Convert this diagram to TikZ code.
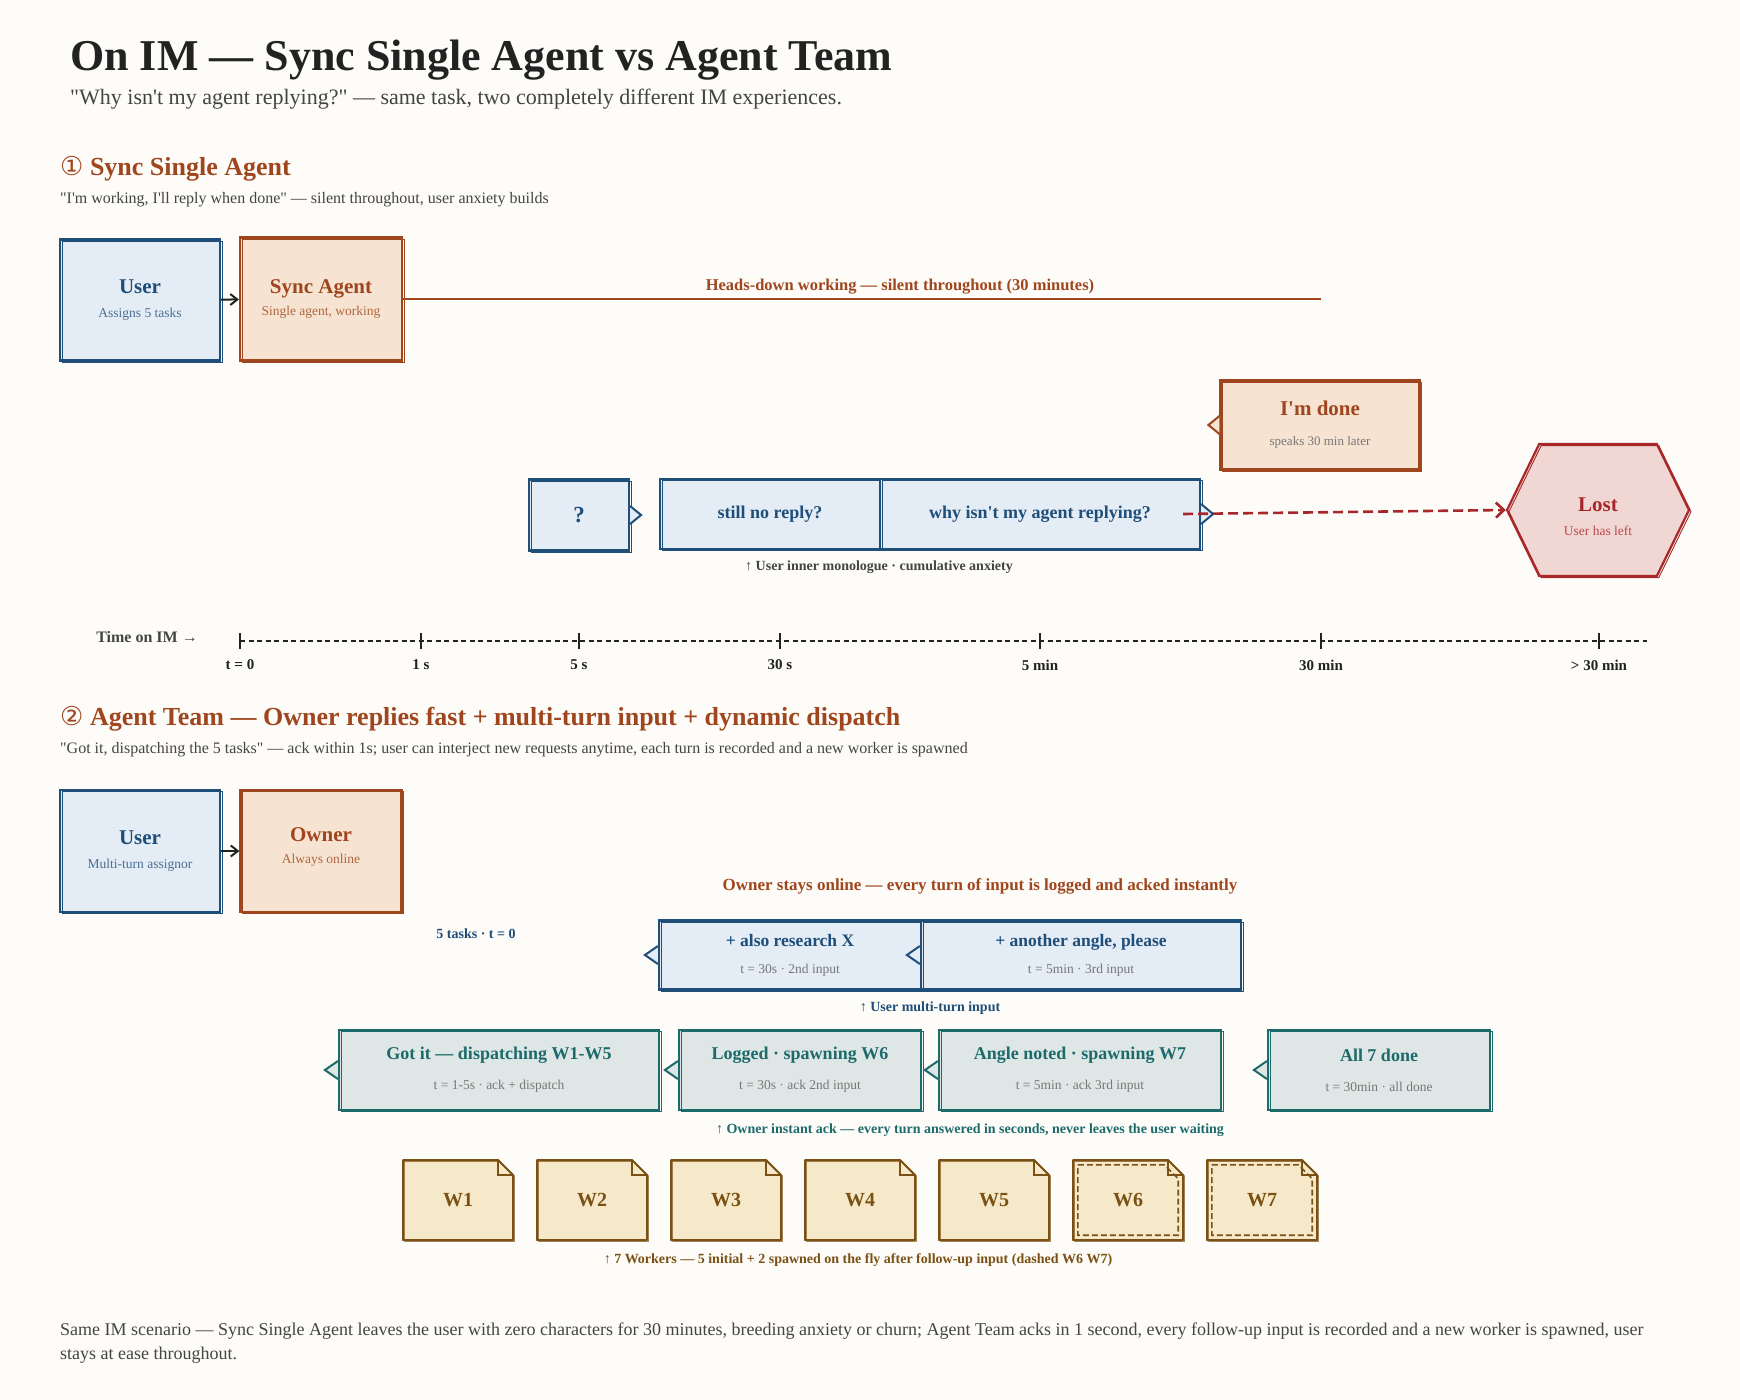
\documentclass[tikz,border=0pt]{standalone}
\usepackage{fontspec}
\setmainfont{Liberation Serif}[Ligatures=TeXOff]
\newfontfamily\circfont{DejaVu Sans}
\usetikzlibrary{arrows.meta, shapes.symbols}

\definecolor{bgpaper}{HTML}{FDFCF8}
\definecolor{inkdark}{HTML}{222222}
\definecolor{inkgray}{HTML}{444444}
\definecolor{inksoft}{HTML}{777777}
\definecolor{inkblue}{HTML}{1F4E79}
\definecolor{inkbluesoft}{HTML}{4A6F94}
\definecolor{fillblue}{HTML}{E4ECF5}
\definecolor{inkbrown}{HTML}{A0461E}
\definecolor{inkbrownsoft}{HTML}{B0663E}
\definecolor{fillpeach}{HTML}{F6E3D2}
\definecolor{inkred}{HTML}{A8282A}
\definecolor{inkredsoft}{HTML}{B84A4C}
\definecolor{fillred}{HTML}{F1D7D4}
\definecolor{inkteal}{HTML}{1D6A6B}
\definecolor{fillteal}{HTML}{DFE7E6}
\definecolor{inkgold}{HTML}{7A5014}
\definecolor{fillgold}{HTML}{F6E9C9}

\newcommand{\boxsub}[2]{{\fontsize{13.5pt}{16pt}\selectfont\mdseries\color{#1}#2}}

\begin{document}
\begin{tikzpicture}[x=1pt, y=-1pt,
    box/.style={rectangle, line width=2.2pt, align=center, inner sep=0pt,
      postaction={draw, line width=0.9pt, transform canvas={shift={(2pt,-1.6pt)}}}},
    userbox/.style={box, draw=inkblue, fill=fillblue, text=inkblue,
      font=\fontsize{21pt}{24pt}\selectfont\bfseries},
    agentbox/.style={box, draw=inkbrown, fill=fillpeach, text=inkbrown,
      font=\fontsize{21pt}{24pt}\selectfont\bfseries},
    thoughtbox/.style={box, draw=inkblue, fill=fillblue, text=inkblue,
      font=\fontsize{18pt}{22pt}\selectfont\bfseries},
    inputbox/.style={thoughtbox, font=\fontsize{17.5pt}{20pt}\selectfont\bfseries},
    ackbox/.style={box, draw=inkteal, fill=fillteal, text=inkteal,
      minimum height=80, font=\fontsize{18pt}{20pt}\selectfont\bfseries},
    lostbox/.style={box, signal, signal to=east and west, signal pointer angle=128,
      draw=inkred, fill=fillred, text=inkred,
      font=\fontsize{21pt}{24pt}\selectfont\bfseries},
    worker/.style={rectangle, inner sep=0pt, minimum width=110, minimum height=80,
      text=inkgold, font=\fontsize{20pt}{24pt}\selectfont\bfseries},
    workerline/.style={draw=inkgold, fill=fillgold, line width=2pt, line join=round,
      postaction={draw, line width=0.7pt, transform canvas={shift={(1.6pt,-1.3pt)}}}},
    tail/.style={line width=2pt, line join=miter},
    heading/.style={anchor=base west, inner sep=0pt},
    annot/.style={inner sep=0pt, font=\fontsize{14pt}{16pt}\selectfont\bfseries},
    ticklabel/.style={inner sep=0pt, text=inkdark, font=\fontsize{15pt}{17pt}\selectfont\bfseries},
    handoff/.style={draw=inkdark, line width=2pt, -{Straight Barb[length=7pt, width=11pt]}}
  ]
  % paper
  \fill[bgpaper] (0,0) rectangle (1740,1400);
  \useasboundingbox (0,0) rectangle (1740,1400);

  % title block
  \node[heading, text=inkdark, font=\fontsize{44pt}{50pt}\selectfont\bfseries] (title) at (70,70)
    {On IM — Sync Single Agent vs Agent Team};
  \node[heading, text=inkgray, font=\fontsize{22pt}{25pt}\selectfont] (subtitle) at (70,104)
    {"Why isn't my agent replying?" — same task, two completely different IM experiences.};

  % section 1
  \node[heading, text=inkbrown, font=\fontsize{26pt}{30pt}\selectfont\bfseries] (sec1) at (60,175)
    {{\circfont\mdseries ①} Sync Single Agent};
  \node[heading, text=inkgray, font=\fontsize{16pt}{19pt}\selectfont] (sec1sub) at (60,203)
    {"I'm working, I'll reply when done" — silent throughout, user anxiety builds};

  \node[userbox, minimum width=160, minimum height=121] (user) at (140,300)
    {User\\\boxsub{inkbluesoft}{Assigns 5 tasks}};
  \node[agentbox, minimum width=162, minimum height=123] (syncagent) at (321,299)
    {Sync Agent\\[-2pt]\boxsub{inkbrownsoft}{Single agent, working}};
  \draw[handoff] (user) -- (syncagent);

  \coordinate (workend) at (1321,299);
  \draw[inkbrown, line width=2.6pt] (syncagent.east) -- (workend);
  \node[annot, text=inkbrown, font=\fontsize{16.5pt}{18pt}\selectfont\bfseries] (worklabel) at (900,287)
    {Heads-down working — silent throughout (30 minutes)};

  \node[agentbox, minimum width=199, minimum height=89] (done) at (1320,425)
    {I'm done\\[6pt]\boxsub{inksoft}{\fontsize{13pt}{15pt}\selectfont speaks 30 min later}};
  \filldraw[tail, draw=inkbrown, fill=fillpeach] ([yshift=9pt]done.west) -- ++(-11pt,-9pt) -- ++(11pt,-9pt);

  \node[thoughtbox, minimum width=100, minimum height=71, font=\fontsize{23pt}{26pt}\selectfont\bfseries] (query) at (579,515) {?};
  \node[thoughtbox, minimum width=220, minimum height=70] (noreply) at (770,514) {still no reply?\vphantom{y}};
  \node[thoughtbox, minimum width=320, minimum height=70] (why) at (1040,514) {why isn't my agent replying?};
  \filldraw[tail, draw=inkblue, fill=fillblue] ([yshift=9pt]query.east) -- ++(11pt,-9pt) -- ++(-11pt,-9pt);
  \filldraw[tail, draw=inkblue, fill=fillblue] ([yshift=10pt]why.east) -- ++(12pt,-10pt) -- ++(-12pt,-10pt);
  \node[annot, text=inkgray] (monologue) at (879,567) {↑ User inner monologue · cumulative anxiety};

  \node[lostbox, minimum width=182, minimum height=132] (lost) at (1598,510)
    {\rule{0pt}{27pt}Lost\\\boxsub{inkredsoft}{User has left}};
  \draw[inkred, line width=2.6pt, dash pattern=on 10pt off 5pt,
    -{Straight Barb[length=8pt, width=15pt]}] ([xshift=-18pt]why.east) -- (lost.west);

  % time axis
  \node[anchor=east, inner sep=0pt, text=inkgray, font=\fontsize{16pt}{18pt}\selectfont\bfseries] (timelabel) at (198,637) {Time on IM →};
  \coordinate (axisend) at (1647,641);
  \draw[inkdark, line width=1.8pt, dash pattern=on 5pt off 3.5pt] (240,641) -- (axisend);
  \foreach \xt/\lab [count=\k] in {240/{t = 0}, 421/{1 s}, 579/{5 s}, 780/{30 s}, 1040/{5 min}, 1321/{30 min}, 1599/{> 30 min}} {
    \coordinate (tick\k) at (\xt,641);
    \draw[inkdark, line width=1.6pt] ([yshift=8pt]tick\k) -- ([yshift=-8pt]tick\k);
    \node[ticklabel] (ticklab\k) at (\xt,665) {\lab};
  }

  % section 2
  \node[heading, text=inkbrown, font=\fontsize{26pt}{30pt}\selectfont\bfseries] (sec2) at (60,725)
    {{\circfont\mdseries ②} Agent Team — Owner replies fast + multi-turn input + dynamic dispatch};
  \node[heading, text=inkgray, font=\fontsize{16pt}{19pt}\selectfont] (sec2sub) at (60,753)
    {"Got it, dispatching the 5 tasks" — ack within 1s; user can interject new requests anytime, each turn is recorded and a new worker is spawned};

  \node[userbox, minimum width=160, minimum height=122] (user2) at (140,851)
    {User\\\boxsub{inkbluesoft}{Multi-turn assignor}};
  \node[agentbox, minimum width=161, minimum height=122] (owner) at (321,851)
    {Owner\\[-2pt]\boxsub{inkbrownsoft}{Always online}\rule[-10pt]{0pt}{10pt}};
  \draw[handoff] (user2) -- (owner);

  \node[annot, text=inkbrown, font=\fontsize{17pt}{19pt}\selectfont\bfseries] (ownerlabel) at (980,886)
    {Owner stays online — every turn of input is logged and acked instantly};
  \node[annot, text=inkblue] (tasks) at (476,934) {5 tasks · t = 0};

  \node[inputbox, minimum width=262, minimum height=69] (in1) at (790,955)
    {+ also research X\\[7pt]\boxsub{inksoft}{t = 30s · 2nd input}};
  \node[inputbox, minimum width=320, minimum height=69] (in2) at (1081,955)
    {+ another angle, please\\[7pt]\boxsub{inksoft}{t = 5min · 3rd input}};
  \foreach \n in {in1,in2}
    \filldraw[tail, draw=inkblue, fill=fillblue] ([yshift=9pt]\n.west) -- ++(-13pt,-9pt) -- ++(13pt,-9pt);
  \node[annot, text=inkblue] (inputlabel) at (930,1008) {↑ User multi-turn input};

  \node[ackbox, minimum width=320] (ack1) at (499,1070)
    {Got it — dispatching W1-W5\\[10pt]\boxsub{inksoft}{t = 1-5s · ack + dispatch}};
  \node[ackbox, minimum width=242] (ack2) at (800,1070)
    {Logged · spawning W6\\[10pt]\boxsub{inksoft}{t = 30s · ack 2nd input}};
  \node[ackbox, minimum width=282] (ack3) at (1080,1070)
    {Angle noted · spawning W7\\[10pt]\boxsub{inksoft}{t = 5min · ack 3rd input}};
  \node[ackbox, minimum width=222] (ack4) at (1379,1070)
    {All 7 done\vphantom{g}\\[10pt]\boxsub{inksoft}{t = 30min · all done}};
  \foreach \n in {ack1,ack2,ack3,ack4}
    \filldraw[tail, draw=inkteal, fill=fillteal] ([yshift=9pt]\n.west) -- ++(-13pt,-9pt) -- ++(13pt,-9pt);
  \node[annot, text=inkteal] (acklabel) at (970,1130)
    {↑ Owner instant ack — every turn answered in seconds, never leaves the user waiting};

  % workers
  \foreach \i in {1,...,7} {
    \coordinate (wc) at ({458+134*(\i-1)},1200);
    \filldraw[workerline] ([shift={(-55pt,40pt)}]wc) -- ([shift={(40pt,40pt)}]wc)
      -- ([shift={(55pt,25pt)}]wc) -- ([shift={(55pt,-40pt)}]wc) -- ([shift={(-55pt,-40pt)}]wc) -- cycle;
    \draw[inkgold, line width=1.4pt] ([shift={(40pt,40pt)}]wc) -- ([shift={(40pt,25pt)}]wc) -- ([shift={(55pt,25pt)}]wc);
    \node[worker] (w\i) at (wc) {W\i};
  }
  \foreach \i in {6,7}
    \draw[inkgold, line width=1.6pt, dash pattern=on 6pt off 3pt]
      ([shift={(5pt,-5pt)}]w\i.north west) -- ([shift={(-19pt,-5pt)}]w\i.north east)
      -- ([shift={(-5pt,-19pt)}]w\i.north east) -- ([shift={(-5pt,5pt)}]w\i.south east)
      -- ([shift={(5pt,5pt)}]w\i.south west) -- cycle;
  \node[annot, text=inkgold, font=\fontsize{14pt}{16pt}\selectfont\bfseries] (workerlabel) at (858,1260)
    {↑ 7 Workers — 5 initial + 2 spawned on the fly after follow-up input (dashed W6 W7)};

  % closing note
  \node[anchor=north west, inner sep=0pt, align=left, text=inkgray, font=\fontsize{18pt}{23.5pt}\selectfont] (footer) at (60,1323)
    {Same IM scenario — Sync Single Agent leaves the user with zero characters for 30 minutes, breeding anxiety or churn; Agent Team acks in 1 second, every follow-up input is recorded and a new worker is spawned, user\\
     stays at ease throughout.};
\end{tikzpicture}
\end{document}
